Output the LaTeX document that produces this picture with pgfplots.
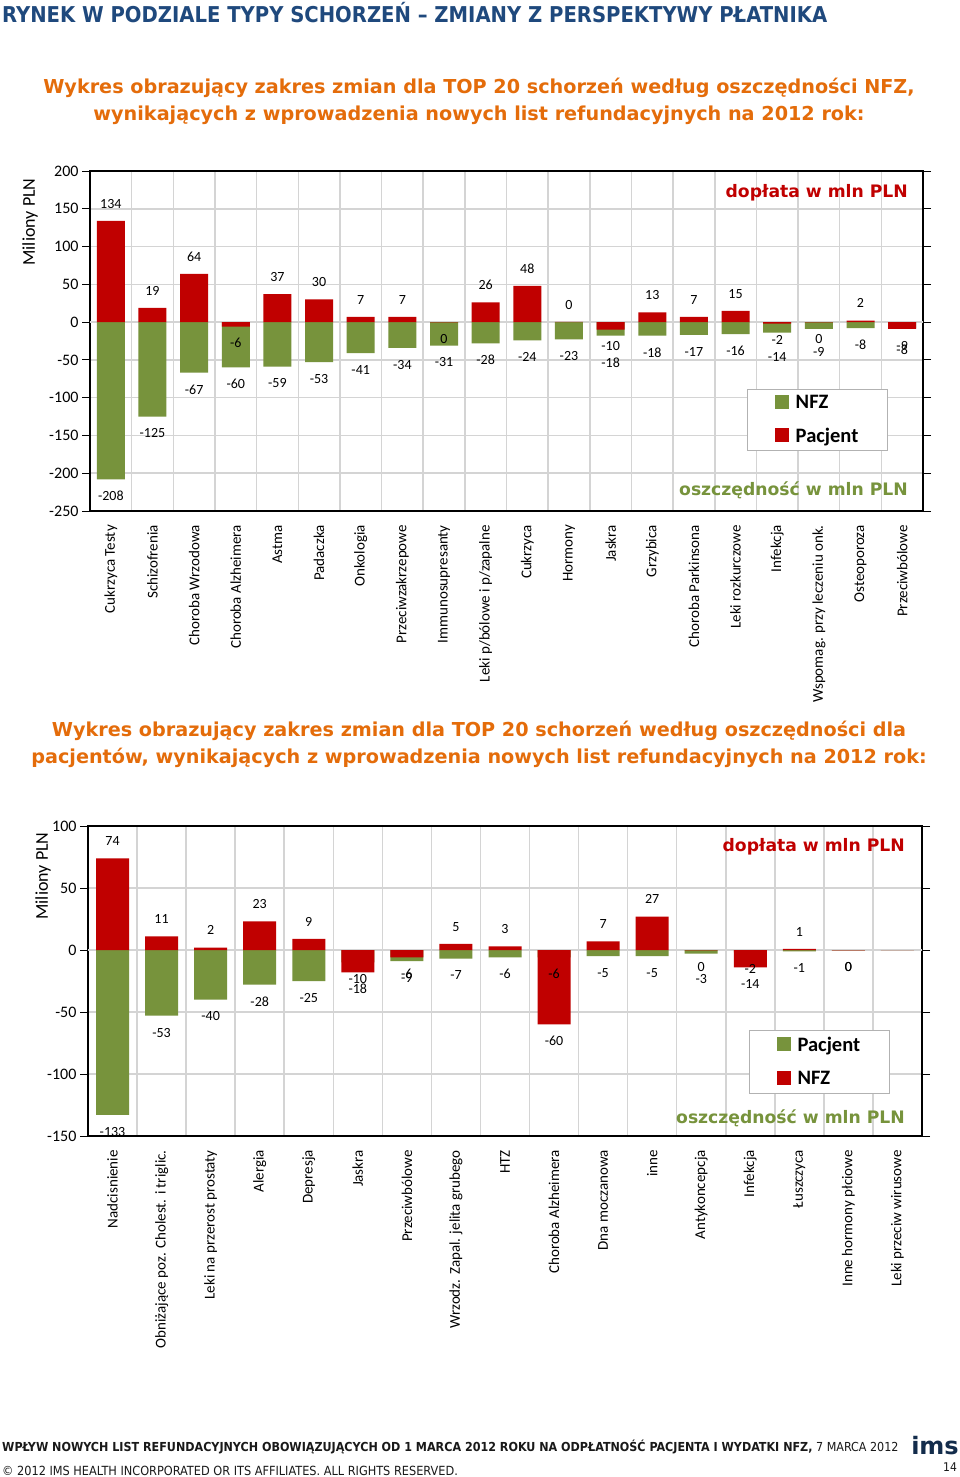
\documentclass[border=0pt]{standalone}
\usepackage{pgfplots}
\pgfplotsset{compat=1.18}
\usepackage{pgfplotstable}
\usepackage{fontspec}
\setmainfont{Carlito}
\newfontfamily\verd{DejaVu Sans}
\newfontfamily\cond{DejaVu Sans Condensed}
\definecolor{cred}{HTML}{C00000}
\definecolor{cgreen}{HTML}{77933C}
\definecolor{corange}{HTML}{E46C0A}
\definecolor{cblue}{HTML}{1F497D}
\definecolor{cgrid}{HTML}{D4D4D4}
\newcommand{\fs}[1]{\fontsize{#1}{#1}\selectfont}

% n = NFZ (green), p = Pacjent (red); nl/pl = label text; no/po = label offset (pt)
\pgfplotstableread{
x  n     nl    no     p     pl   po
1  -208  -208  -21.5  134   134  12.5
2  -125  -125  -21.5  19    19   12.5
3  -67   -67   -21.5  64    64   12.5
4  -60   -60   -21.5  -6    -6   -21.5
5  -59   -59   -21.5  37    37   12.5
6  -53   -53   -21.5  30    30   12.5
7  -41   -41   -21.5  7     7    12.5
8  -34   -34   -21.5  7     7    12.5
9  -31   -31   -21.5  -0.3  0    -21.5
10 -28   -28   -21.5  26    26   12.5
11 -24   -24   -21.5  48    48   12.5
12 -23   -23   -21.5  0.3   0    12.5
13 -18   -18   -31.5  -10   -10  -21.5
14 -18   -18   -21.5  13    13   12.5
15 -17   -17   -21.5  7     7    12.5
16 -16   -16   -21.5  15    15   12.5
17 -14   -14   -29.5  -2    -2   -21.5
18 -9    -9    -27.5  -0.3  0    -21.5
19 -8    -8    -21.5  2     2    12.5
20 -8    -8    -26.5  -9    -9   -21.5
}\dataA

% g = Pacjent (green), r = NFZ (red)
\pgfplotstableread{
x  g    gl   go     r     rl   ro
1  -133 -133 -21.5  74    74   12.5
2  -53  -53  -21.5  11    11   12.5
3  -40  -40  -21.5  2     2    12.5
4  -28  -28  -21.5  23    23   12.5
5  -25  -25  -21.5  9     9    12.5
6  -10  -10  -21.5  -18   -18  -21.5
7  -9   -9   -21.5  -6    -6   -21.5
8  -7   -7   -21.5  5     5    12.5
9  -6   -6   -21.5  3     3    12.5
10 -6   -6   -21.5  -60   -60  -21.5
11 -5   -5   -21.5  7     7    12.5
12 -5   -5   -21.5  27    27   12.5
13 -3   -3   -29.5  -0.3  0    -21.5
14 -2   -2   -21.5  -14   -14  -21.5
15 -1   -1   -21.5  1     1    12.5
16 -0.3 0    -21.5  -0.3  0    -21.5
17 0    0    0      0     0    0
}\dataB

\pgfplotsset{
  mybase/.style={
    scale only axis, ybar, enlargelimits=false,
    axis line style={line width=2pt, black},
    ymajorgrids, major grid style={cgrid, line width=1.5pt},
    xminorgrids, minor grid style={cgrid, line width=1.5pt},
    minor tick length=0pt,
    xtick style={draw=none},
    ytick style={black, line width=0.8pt},
    tick align=outside, major tick length=8pt,
    yticklabel style={font=\fs{16}},
    xticklabel style={rotate=90, anchor=east, font=\fs{15}, inner xsep=6pt, inner ysep=0pt},
    extra y ticks={0}, extra y tick labels={},
    extra y tick style={grid=major, grid style={black!55, line width=0.8pt}, tick style={draw=none}},
    legend cell align=left,
  },
  legimg/.style={legend image code/.code={\fill[##1, draw=none] (0pt,-6pt) rectangle (14pt,8pt);}},
  labs/.style={draw=none, fill=none, forget plot, bar shift=0pt,
    nodes near coords, point meta=explicit symbolic,
    visualization depends on={\thisrow{#1} \as \dy},
    every node near coord/.append style={font=\fs{14}, text=black, inner ysep=0pt, inner xsep=1pt, text height=9pt, text depth=0pt, yshift=\dy pt}},
}

\begin{document}
\begin{tikzpicture}
\fill[white] (0pt,0pt) rectangle (960pt,-1477pt);
\path[use as bounding box] (0pt,0pt) rectangle (960pt,-1477pt);

\node[anchor=west, inner sep=0pt, text=cblue, font=\cond\bfseries\fs{21.8}] at (2pt,-13pt) {RYNEK W PODZIALE TYPY SCHORZEŃ – ZMIANY Z PERSPEKTYWY PŁATNIKA};

\node[align=center, inner sep=0pt, text=corange, font=\verd\bfseries\fontsize{19.2}{27}\selectfont] at (479pt,-101.5pt) {Wykres obrazujący zakres zmian dla TOP 20 schorzeń według oszczędności NFZ,\\wynikających z wprowadzenia nowych list refundacyjnych na 2012 rok:};

\begin{axis}[mybase,
  at={(90pt,-511pt)}, anchor=south west,
  width=833pt, height=340pt,
  xmin=0.5, xmax=20.5, ymin=-250, ymax=200,
  ytick={-250,-200,...,200},
  yticklabels={-250,-200,-150,-100,-50,0,50,100,150,200},
  xtick={1,...,20},
  minor xtick={0.5,1.5,...,20.5},
  bar width=28pt,
  xticklabels={Cukrzyca Testy, Schizofrenia, Choroba Wrzodowa, Choroba Alzheimera, Astma, Padaczka, Onkologia, Przeciwzakrzepowe, Immunosupresanty, Leki p/bólowe i p/zapalne, Cukrzyca, Hormony, Jaskra, Grzybica, Choroba Parkinsona, Leki rozkurczowe, Infekcja, Wspomag. przy leczeniu onk., Osteoporoza, Przeciwbólowe},
  legend style={at={(axis description cs:0.789,0.359)}, anchor=north west, draw=black!30, line width=1pt, fill=white, font=\bfseries\fs{20.5}, inner xsep=27pt, inner ysep=4pt, row sep=14pt, /tikz/every odd column/.append style={column sep=5pt}},
]
\addplot[fill=cgreen, draw=none, bar shift=0pt, legimg] table[x=x, y=n] {\dataA};
\addlegendentry{NFZ}
\addplot[fill=cred, draw=none, bar shift=0pt, legimg] table[x=x, y=p] {\dataA};
\addlegendentry{Pacjent}
\addplot[labs=no] table[x=x, y=n, meta=nl] {\dataA};
\addplot[labs=po] table[x=x, y=p, meta=pl] {\dataA};
\end{axis}

\node[rotate=90, font=\fs{18}] at (30pt,-222pt) {Miliony PLN};
\node[anchor=east, inner sep=0pt, text=cred, font=\verd\bfseries\fs{17.2}] at (908pt,-193pt) {dopłata w mln PLN};
\node[anchor=east, inner sep=0pt, text=cgreen, font=\verd\bfseries\fs{17.2}] at (908pt,-490pt) {oszczędność w mln PLN};

\node[align=center, inner sep=0pt, text=corange, font=\verd\bfseries\fontsize{19.2}{27}\selectfont] at (479pt,-744.5pt) {Wykres obrazujący zakres zmian dla TOP 20 schorzeń według oszczędności dla\\pacjentów, wynikających z wprowadzenia nowych list refundacyjnych na 2012 rok:};

\begin{axis}[mybase,
  at={(88pt,-1136pt)}, anchor=south west,
  width=834pt, height=310pt,
  xmin=0.5, xmax=17.5, ymin=-150, ymax=100,
  ytick={-150,-100,...,100},
  yticklabels={-150,-100,-50,0,50,100},
  xtick={1,...,17},
  minor xtick={0.5,1.5,...,17.5},
  bar width=33pt,
  xticklabels={Nadcisnienie, Obniżające poz. Cholest. i triglic., Leki na przerost prostaty, Alergia, Depresja, Jaskra, Przeciwbólowe, Wrzodz. Zapal. jelita grubego, HTZ, Choroba Alzheimera, Dna moczanowa, inne, Antykoncepcja, Infekcja, Łuszczyca, Inne hormony płciowe, Leki przeciw wirusowe},
  legend style={at={(axis description cs:0.7926,0.342)}, anchor=north west, draw=black!30, line width=1pt, fill=white, font=\bfseries\fs{20.5}, inner xsep=27pt, inner ysep=5pt, row sep=14pt, /tikz/every odd column/.append style={column sep=5pt}},
]
\addplot[fill=cgreen, draw=none, bar shift=0pt, legimg] table[x=x, y=g] {\dataB};
\addlegendentry{Pacjent}
\addplot[fill=cred, draw=none, bar shift=0pt, legimg] table[x=x, y=r] {\dataB};
\addlegendentry{NFZ}
\addplot[labs=go, restrict x to domain=1:16] table[x=x, y=g, meta=gl] {\dataB};
\addplot[labs=ro, restrict x to domain=1:16] table[x=x, y=r, meta=rl] {\dataB};
\end{axis}

\node[rotate=90, font=\fs{18}] at (43pt,-876pt) {Miliony PLN};
\node[anchor=east, inner sep=0pt, text=cred, font=\verd\bfseries\fs{17.2}] at (905pt,-847pt) {dopłata w mln PLN};
\node[anchor=east, inner sep=0pt, text=cgreen, font=\verd\bfseries\fs{17.2}] at (905pt,-1118pt) {oszczędność w mln PLN};

\node[anchor=west, inner sep=0pt, text=black!90, font=\cond\fs{12.4}] at (2pt,-1447pt) {\textbf{WPŁYW NOWYCH LIST REFUNDACYJNYCH OBOWIĄZUJĄCYCH OD 1 MARCA 2012 ROKU NA ODPŁATNOŚĆ PACJENTA I WYDATKI NFZ,} 7 MARCA 2012};
\node[anchor=west, inner sep=0pt, text=black!90, font=\cond\fs{12.6}] at (2pt,-1471pt) {© 2012 IMS HEALTH INCORPORATED OR ITS AFFILIATES. ALL RIGHTS RESERVED.};
\node[anchor=center, inner sep=0pt, text=cblue!60!black, font=\verd\bfseries\fs{24}] at (935pt,-1446pt) {ims};
\node[anchor=center, inner sep=0pt, text=black!90, font=\cond\fs{12}] at (950pt,-1467pt) {14};
\end{tikzpicture}
\end{document}
